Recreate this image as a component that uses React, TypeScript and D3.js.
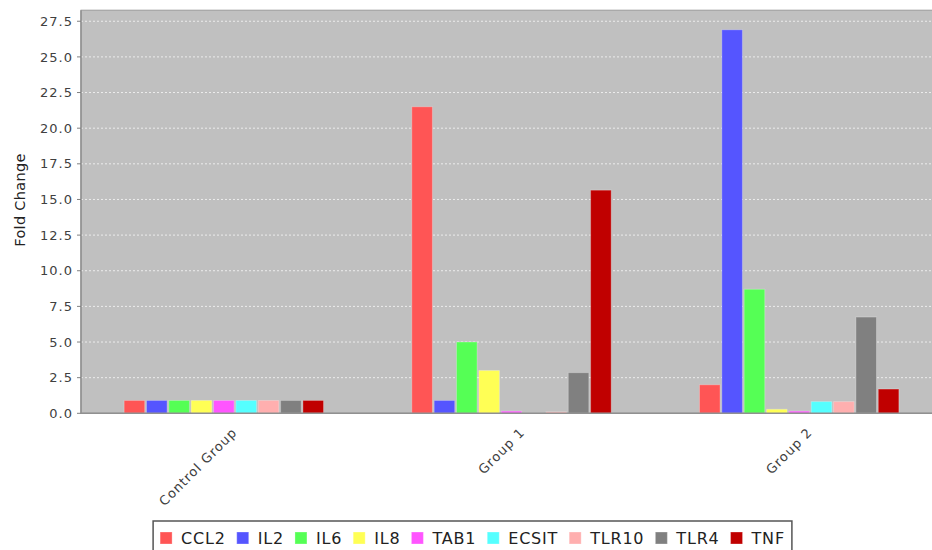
import React, { useEffect, useRef } from 'react';
import * as d3 from 'd3';

const groups = ['Control Group', 'Group 1', 'Group 2'];
const genes = ['CCL2', 'IL2', 'IL6', 'IL8', 'TAB1', 'ECSIT', 'TLR10', 'TLR4', 'TNF'];
const controlValues = [0.9, 0.9, 0.9, 0.9, 0.9, 0.9, 0.9, 0.9, 0.9];
const group1Values = [21.5, 0.9, 5.0, 3.0, 0.15, 0.02, 0.1, 2.85, 15.65];
const group2Values = [2.0, 26.9, 8.7, 0.28, 0.15, 0.82, 0.82, 6.75, 1.7];
const geneColors = ['#ff5555', '#5555ff', '#55ff55', '#ffff55', '#ff55ff', '#55ffff', '#ffafaf', '#808080', '#c00000'];
const yTicks = [0, 2.5, 5, 7.5, 10, 12.5, 15, 17.5, 20, 22.5, 25, 27.5];

const W = 945;
const H = 550;
const FONT = '"DejaVu Sans", Verdana, sans-serif';

const App: React.FC = () => {
  const ref = useRef<SVGSVGElement>(null);

  useEffect(() => {
    document.body.style.margin = '0';
    document.body.style.overflow = 'hidden';
    if (!ref.current) return;
    const svg = d3.select(ref.current);
    svg.selectAll('*').remove();

    const m = { left: 81, top: 10.7, right: 1, bottom: 136.7 };
    const pw = W - m.left - m.right;
    const y0 = H - m.bottom;

    const y = d3.scaleLinear().domain([0, 28.24]).range([y0, m.top]);
    const x = d3.scaleBand<string>()
      .domain(groups)
      .range([m.left + pw * 0.05, m.left + pw * 0.95])
      .paddingInner(0.3)
      .paddingOuter(0);
    const xi = d3.scaleBand<string>()
      .domain(genes)
      .range([0, x.bandwidth() - 2])
      .paddingInner(0.08);

    const rows = [controlValues, group1Values, group2Values];

    // plot background
    svg.append('rect')
      .attr('x', m.left).attr('y', m.top - 0.5)
      .attr('width', pw).attr('height', y0 - m.top + 0.5)
      .attr('fill', '#c0c0c0')
      .attr('stroke', '#9a9a9a').attr('stroke-width', 1);

    // grid
    svg.append('g')
      .selectAll('line')
      .data(yTicks.filter(d => d > 0))
      .enter().append('line')
      .attr('x1', m.left).attr('x2', m.left + pw)
      .attr('y1', d => y(d)).attr('y2', d => y(d))
      .attr('stroke', '#ffffff').attr('stroke-opacity', 0.7)
      .attr('stroke-dasharray', '2,2');

    // bars
    const g = svg.append('g');
    rows.forEach((vals, gi) => {
      g.append('g')
        .attr('transform', `translate(${x(groups[gi])},0)`)
        .selectAll('rect')
        .data(vals)
        .enter().append('rect')
        .attr('x', (_, i) => xi(genes[i])!)
        .attr('width', xi.bandwidth())
        .attr('y', d => y(d))
        .attr('height', d => y0 - y(d))
        .attr('fill', (_, i) => geneColors[i])
        .attr('stroke', '#ffffff').attr('stroke-opacity', 0.25).attr('stroke-width', 1);
    });

    // axes lines
    svg.append('line')
      .attr('x1', m.left).attr('x2', m.left + pw).attr('y1', y0).attr('y2', y0)
      .attr('stroke', '#909090').attr('stroke-width', 1.5);
    svg.append('line')
      .attr('x1', m.left).attr('x2', m.left).attr('y1', m.top - 0.5).attr('y2', y0)
      .attr('stroke', '#909090').attr('stroke-width', 1.5);

    // y ticks
    const yt = svg.append('g');
    yt.selectAll('line')
      .data(yTicks)
      .enter().append('line')
      .attr('x1', m.left - 4).attr('x2', m.left)
      .attr('y1', d => y(d)).attr('y2', d => y(d))
      .attr('stroke', '#808080');
    yt.selectAll('text')
      .data(yTicks)
      .enter().append('text')
      .attr('x', m.left - 8)
      .attr('y', d => y(d))
      .attr('dy', '0.36em')
      .attr('text-anchor', 'end')
      .attr('font-family', FONT).attr('font-size', 13)
      .attr('letter-spacing', 1)
      .attr('fill', '#404040')
      .text(d => d3.format('.1f')(d));

    svg.append('text')
      .attr('transform', `translate(25,${(m.top + y0) / 2 - 12}) rotate(-90)`)
      .attr('text-anchor', 'middle')
      .attr('font-family', FONT).attr('font-size', 14.5)
      .attr('letter-spacing', 0.3)
      .attr('fill', '#222')
      .text('Fold Change');

    // category labels
    svg.append('g')
      .selectAll('text')
      .data(groups)
      .enter().append('text')
      .attr('transform', d => `translate(${x(d)! + x.bandwidth() / 2 + 13},${y0 + 20}) rotate(-45)`)
      .attr('text-anchor', 'end')
      .attr('font-family', FONT).attr('font-size', 13)
      .attr('letter-spacing', 1)
      .attr('fill', '#404040')
      .text(d => d);

    // legend
    const lg = svg.append('g');
    const items = lg.selectAll('g')
      .data(genes)
      .enter().append('g');
    items.append('rect')
      .attr('width', 12).attr('height', 12)
      .attr('y', -12)
      .attr('fill', (_, i) => geneColors[i])
      .attr('stroke', '#ffffff').attr('stroke-opacity', 0.3);
    items.append('text')
      .attr('x', 21)
      .attr('font-family', FONT).attr('font-size', 16)
      .attr('letter-spacing', 0.8)
      .attr('fill', '#222')
      .text(d => d);
    let cx = 0;
    const widths: number[] = [];
    items.each(function () {
      const t = d3.select(this).select('text').node() as SVGTextElement;
      widths.push(21 + t.getComputedTextLength() + 11);
    });
    const total = d3.sum(widths) - 11 + 14;
    const lx = W / 2 - total / 2;
    const ly = 544;
    items.attr('transform', (_, i) => {
      const tx = lx + 7 + cx;
      cx += widths[i];
      return `translate(${tx},${ly})`;
    });
    lg.insert('rect', ':first-child')
      .attr('x', lx).attr('y', 521)
      .attr('width', total).attr('height', 40)
      .attr('fill', 'none')
      .attr('stroke', '#555').attr('stroke-width', 1.5);
  }, []);

  return (
    <svg ref={ref} width={932} height={H} style={{ display: 'block', overflow: 'hidden' }} />
  );
};

export default App;
